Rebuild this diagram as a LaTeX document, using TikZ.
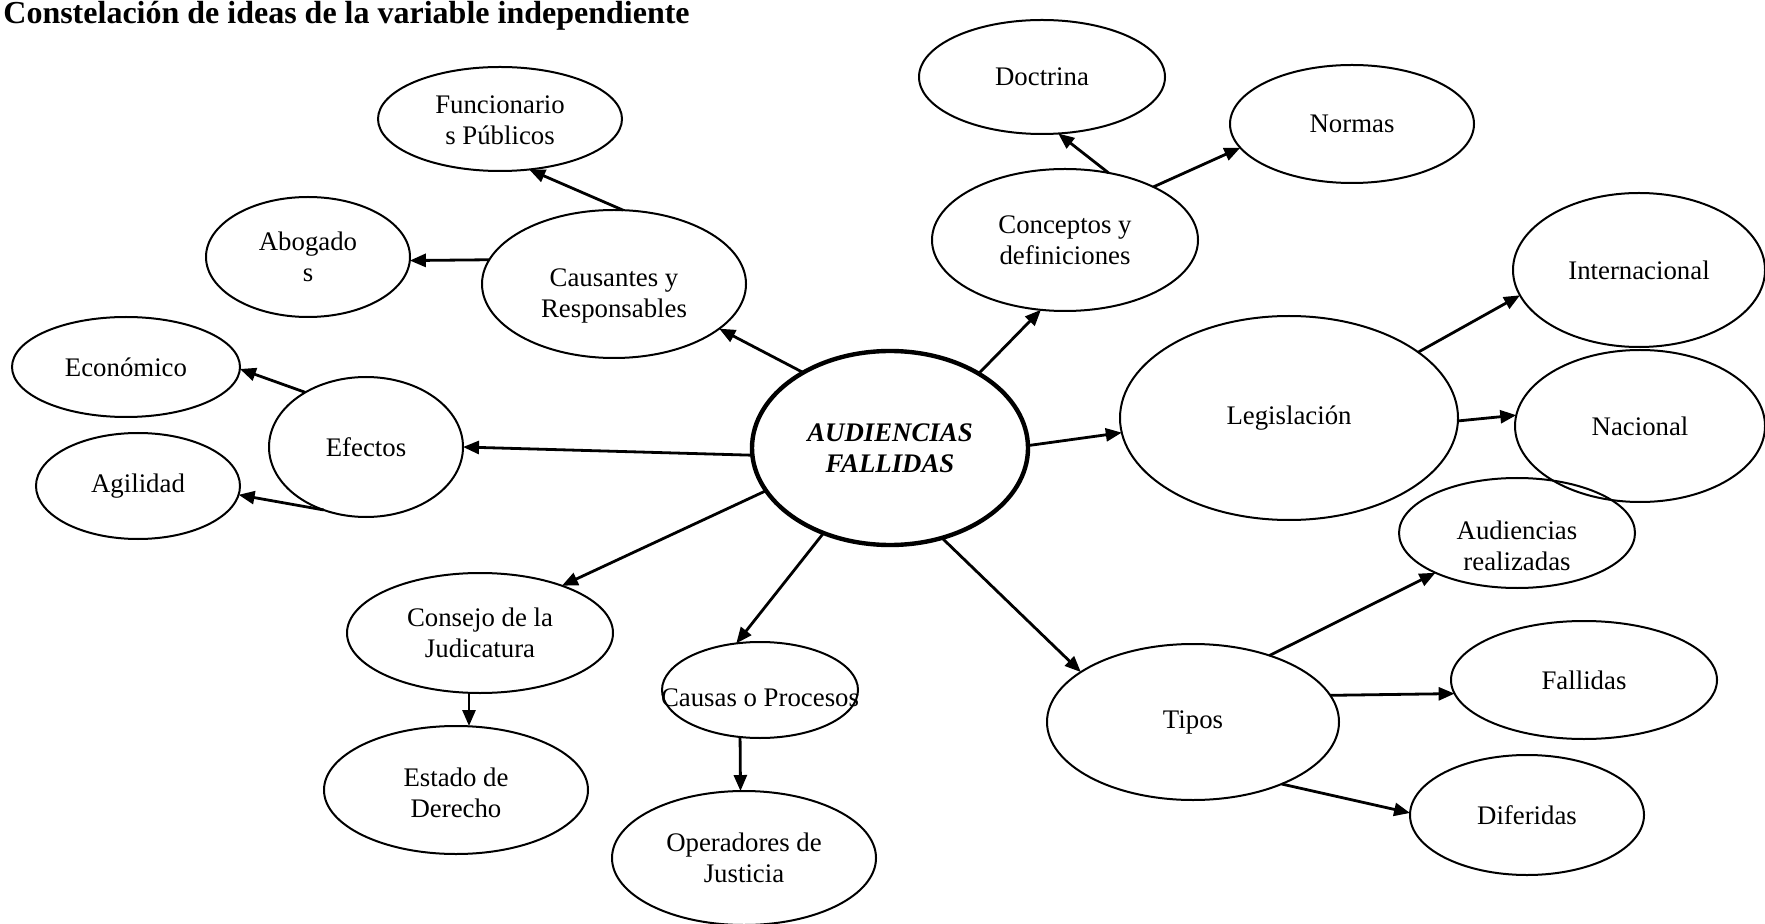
\documentclass[tikz,border=0pt]{standalone}
\usepackage{fontspec}
\setmainfont{Liberation Serif}
\usetikzlibrary{shapes.geometric,arrows.meta}
\newcommand\lowtxt[2]{\raisebox{-#1}[\height][\depth]{\begin{tabular}{@{}c@{}}#2\end{tabular}}}
\tikzset{
  bub/.style={ellipse, draw, line width=1pt, inner sep=0pt, outer sep=0pt, align=center,
    font=\fontsize{13.4}{15.5}\selectfont},
  hub/.style={bub, line width=2.2pt, font=\fontsize{13.4}{15.5}\selectfont\bfseries\itshape},
  arr/.style={line width=1.4pt, -{Triangle[length=8pt,width=6.5pt]}},
}
\begin{document}
\begin{tikzpicture}[x=0.5pt,y=-0.5pt]
\useasboundingbox (0,0) rectangle (1765,924);
\node[anchor=base west, inner sep=0pt, font=\fontsize{16}{18}\selectfont\bfseries] (title) at (3,24)
  {Constelación de ideas de la variable independiente};

\node[hub, minimum width=138pt, minimum height=97pt] (c) at (890,448) {AUDIENCIAS\\FALLIDAS};

\node[bub, minimum width=123pt, minimum height=57pt] (doc) at (1042,77) {Doctrina};
\node[bub, minimum width=122pt, minimum height=59pt] (nor) at (1352,124) {Normas};
\node[bub, minimum width=133pt, minimum height=71pt] (con) at (1065,240) {Conceptos y\\definiciones};
\node[bub, minimum width=122pt, minimum height=52pt] (fun) at (500,119) {\lowtxt{2pt}{Funcionario\\s Públicos}};
\node[bub, minimum width=102pt, minimum height=60pt] (abo) at (308,257) {Abogado\\s};
\node[bub, minimum width=132pt, minimum height=74pt] (cau) at (614,284) {\lowtxt{6pt}{Causantes y\\Responsables}};
\node[bub, minimum width=114pt, minimum height=50pt] (eco) at (126,367) {Económico};
\node[bub, minimum width=102pt, minimum height=53pt] (agi) at (138,486) {Agilidad};
\node[bub, minimum width=97pt, minimum height=70pt] (efe) at (366,447) {Efectos};
\node[bub, minimum width=126pt, minimum height=77pt] (int) at (1639,270) {Internacional};
\node[bub, minimum width=169pt, minimum height=102pt] (leg) at (1289,418) {Legislación};
\node[bub, minimum width=125pt, minimum height=76pt] (nac) at (1640,426) {Nacional};
\node[bub, minimum width=118pt, minimum height=55pt] (are) at (1517,533) {\lowtxt{8pt}{Audiencias\\realizadas}};
\node[bub, minimum width=133pt, minimum height=59pt] (fal) at (1584,680) {Fallidas};
\node[bub, minimum width=146pt, minimum height=78pt] (tip) at (1193,722) {Tipos};
\node[bub, minimum width=117pt, minimum height=60pt] (dif) at (1527,815) {Diferidas};
\node[bub, minimum width=133pt, minimum height=60pt] (cjo) at (480,633) {Consejo de la\\Judicatura};
\node[bub, minimum width=132pt, minimum height=64pt] (est) at (456,790) {\lowtxt{2.8pt}{Estado de\\Derecho}};
\node[bub, minimum width=98pt, minimum height=48pt] (cpr) at (760,690) {\makebox[0pt]{\lowtxt{5pt}{Causas o Procesos}}};
\node[bub, minimum width=132pt, minimum height=67pt] (ope) at (744,858) {Operadores de\\Justicia};

\draw[arr] (c.139) -- (cau.-23);
\draw[arr] (c.40) -- (con.251);
\draw[arr] (con.57.3) -- (doc.286);
\draw[arr] (con.31) -- (nor.192.6);
\draw[arr] (cau.83) -- (fun.300);
\draw[arr] (cau.169.5) -- (abo.-2);
\draw[arr] (c.183.5) -- (efe.0);
\draw[arr] (efe.138.7) -- (eco.-1.5);
\draw[arr] (efe.236.5) -- (agi.-5);
\draw[arr] (c.1) -- (leg.185.8);
\draw[arr] (leg.27.6) -- (int.192.4);
\draw[arr] (leg.-1.7) -- (nac.175.4);
\draw[arr] (c.199.3) -- (cjo.30.7);
\draw[arr] (c.232.8) -- (cpr.117.9);
\draw[arr] (c.300.4) -- (tip.156.4);
\draw[arr] (tip.41.1) -- (are.206);
\draw[arr] (tip.11.6) -- (fal.186.2);
\draw[arr] (tip.325) -- (dif.179.5);
\draw[arr] ([xshift=-5.5pt]cjo.south) -- ([xshift=6.5pt]est.north);
\draw[arr] (cpr.247.4) -- (ope.93.6);
\end{tikzpicture}
\end{document}
